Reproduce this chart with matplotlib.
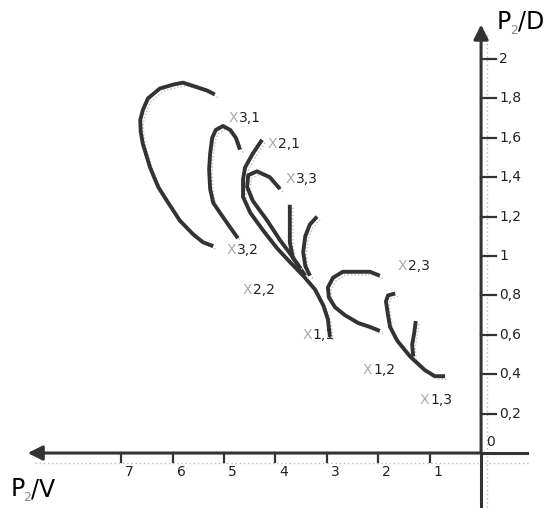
import matplotlib
matplotlib.use("Agg")
import matplotlib.pyplot as plt
from matplotlib.transforms import offset_copy

# curves (x = P2/V, y = P2/D)
curve_a_x = [5.18, 5.33, 5.56, 5.80, 5.99, 6.25, 6.48, 6.58, 6.63, 6.62, 6.58, 6.44, 6.28, 6.11, 5.86, 5.60, 5.41, 5.21]
curve_a_y = [1.82, 1.84, 1.86, 1.88, 1.87, 1.85, 1.80, 1.74, 1.69, 1.63, 1.57, 1.45, 1.35, 1.28, 1.18, 1.11, 1.07, 1.05]
curve_b_x = [4.69, 4.77, 4.88, 5.02, 5.16, 5.23, 5.27, 5.29, 5.27, 5.21, 5.08, 4.92, 4.73]
curve_b_y = [1.54, 1.60, 1.64, 1.66, 1.64, 1.60, 1.52, 1.44, 1.34, 1.27, 1.22, 1.16, 1.09]
curve_c_x = [4.26, 4.44, 4.59, 4.63, 4.63, 4.49, 4.24, 3.97, 3.72, 3.46, 3.23, 3.07, 2.98, 2.94]
curve_c_y = [1.59, 1.52, 1.45, 1.39, 1.30, 1.22, 1.13, 1.04, 0.97, 0.90, 0.83, 0.75, 0.68, 0.59]
curve_d_x = [3.91, 4.11, 4.36, 4.53, 4.55, 4.44, 4.16, 3.91, 3.68, 3.42]
curve_d_y = [1.34, 1.40, 1.43, 1.41, 1.35, 1.28, 1.18, 1.08, 1.00, 0.90]
curve_v1_x = [3.72, 3.72, 3.72, 3.66, 3.52]
curve_v1_y = [1.26, 1.16, 1.07, 0.99, 0.94]
curve_v2_x = [3.19, 3.33, 3.42, 3.46, 3.42, 3.33]
curve_v2_y = [1.20, 1.16, 1.10, 1.02, 0.95, 0.90]
curve_e_x = [1.97, 2.16, 2.45, 2.69, 2.88, 2.98, 2.96, 2.84, 2.65, 2.39, 2.16, 1.97]
curve_e_y = [0.90, 0.92, 0.92, 0.92, 0.89, 0.84, 0.79, 0.74, 0.70, 0.66, 0.64, 0.62]
curve_f_x = [1.67, 1.81, 1.85, 1.81, 1.77, 1.63, 1.38, 1.09, 0.90, 0.70]
curve_f_y = [0.81, 0.80, 0.77, 0.70, 0.64, 0.57, 0.49, 0.42, 0.39, 0.39]
curve_g_x = [1.27, 1.30, 1.34, 1.32]
curve_g_y = [0.67, 0.61, 0.55, 0.49]

curves = [(curve_a_x, curve_a_y), (curve_b_x, curve_b_y), (curve_c_x, curve_c_y),
          (curve_d_x, curve_d_y), (curve_v1_x, curve_v1_y), (curve_v2_x, curve_v2_y),
          (curve_e_x, curve_e_y), (curve_f_x, curve_f_y), (curve_g_x, curve_g_y)]

labels = ["3,1", "2,1", "3,3", "3,2", "2,2", "2,3", "1,1", "1,2", "1,3"]
label_pos = [(4.92, 1.70), (4.16, 1.57), (3.81, 1.39), (4.96, 1.03), (4.63, 0.83),
             (1.62, 0.95), (3.48, 0.60), (2.30, 0.42), (1.19, 0.27)]

x_ticks = [1, 2, 3, 4, 5, 6, 7]
y_ticks = [0.2, 0.4, 0.6, 0.8, 1, 1.2, 1.4, 1.6, 1.8, 2]
y_tick_labels = ["0,2", "0,4", "0,6", "0,8", "1", "1,2", "1,4", "1,6", "1,8", "2"]

ink = "#333333"

fig = plt.figure(figsize=(5.52, 5.08), dpi=100)
ax = fig.add_axes([0, 0, 1, 1])
ax.set_xlim(9.358, -1.38)
ax.set_ylim(-0.279, 2.2995)
ax.axis("off")

# dotted helper lines beside the axes
ax.plot([8.68, -0.95], [-0.05, -0.05], ls=(0, (1, 2)), color="#bbbbbb", lw=1)
ax.plot([-0.12, -0.12], [2.12, -0.279], ls=(0, (1, 2)), color="#bbbbbb", lw=1)

# axes with arrow heads
ax.plot([0, -0.9], [0, 0], color=ink, lw=2.2)
ax.plot([0, 0], [0, -0.279], color=ink, lw=2.2)
ax.annotate("", xy=(8.82, 0), xytext=(0, 0),
            arrowprops=dict(arrowstyle="-|>", mutation_scale=22, lw=2.2, color=ink,
                            shrinkA=0, shrinkB=0))
ax.annotate("", xy=(0, 2.175), xytext=(0, 0),
            arrowprops=dict(arrowstyle="-|>", mutation_scale=22, lw=2.2, color=ink,
                            shrinkA=0, shrinkB=0))

for t in x_ticks:
    ax.plot([t, t], [0, -0.045], color=ink, lw=1.6)
    ax.annotate(str(t), (t, -0.045), xytext=(6, -2), textcoords="offset points",
                ha="center", va="top", fontsize=10, color="#222222")
for t, lab in zip(y_ticks, y_tick_labels):
    ax.plot([0, -0.3], [t, t], color=ink, lw=1.6)
    ax.annotate(lab, (-0.3, t), xytext=(2, 0), textcoords="offset points",
                ha="left", va="center", fontsize=10, color="#222222")
ax.text(-0.1, 0.02, "0", ha="left", va="bottom", fontsize=10, color="#222222")

# axis names: black letters, small grey subscript
for x0, y0, tail in [(9.16, -0.185, "/V"), (-0.31, 2.188, "/D")]:
    ax.text(x0, y0, "P", ha="left", va="center", fontsize=17, color="black")
    ax.annotate("2", (x0, y0), xytext=(9.5, -6), textcoords="offset points",
                ha="left", va="center", fontsize=9, color="#888888")
    ax.annotate(tail, (x0, y0), xytext=(15, 0), textcoords="offset points",
                ha="left", va="center", fontsize=17, color="black")

# curves with their dotted grey shadows
shadow = offset_copy(ax.transData, fig=fig, x=3, y=-3, units="dots")
for cx, cy in curves:
    ax.plot(cx, cy, color="#bbbbbb", lw=1, ls=(0, (1, 1.5)), transform=shadow)
    ax.plot(cx, cy, color=ink, lw=2.8, solid_capstyle="butt", solid_joinstyle="round")

for lab, (lx, ly) in zip(labels, label_pos):
    ax.text(lx, ly, "X", ha="left", va="center", fontsize=10, color="#aaaaaa")
    ax.annotate(lab, (lx, ly), xytext=(7.5, 0), textcoords="offset points",
                ha="left", va="center", fontsize=10, color="#222222")

fig.savefig("out.png", dpi=100)
